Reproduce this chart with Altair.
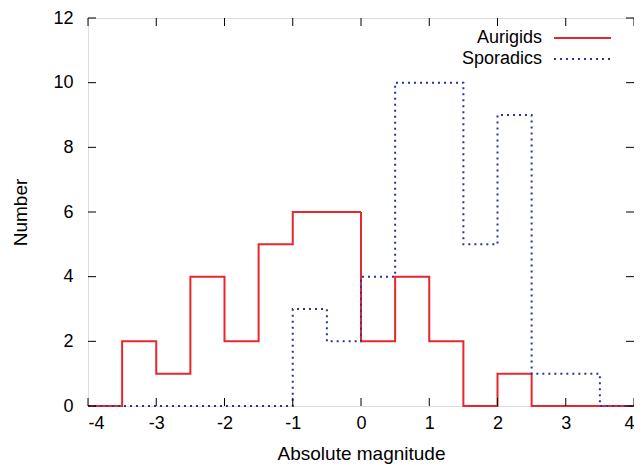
import altair as alt
import pandas as pd

# Bin left edges (width 0.5) plus the final right edge
edges = [-4.0, -3.5, -3.0, -2.5, -2.0, -1.5, -1.0, -0.5, 0.0, 0.5, 1.0, 1.5, 2.0, 2.5, 3.0, 3.5, 4.0]
aurigids = [0, 2, 1, 4, 2, 5, 6, 6, 2, 4, 2, 0, 1, 0, 0, 0]
sporadics = [0, 0, 0, 0, 0, 0, 3, 2, 4, 10, 10, 5, 9, 1, 1, 0]
series_names = ["Aurigids", "Sporadics"]
series_colors = ["#e8262e", "#2b3595"]
series_dash = [[1, 0], [2, 4]]

x_ticks = [-4, -3, -2, -1, 0, 1, 2, 3, 4]
y_ticks = [0, 2, 4, 6, 8, 10, 12]

W, H = 546, 388
FONT = "Liberation Sans"

rows = []
for name, vals in zip(series_names, [aurigids, sporadics]):
    full = vals + [vals[-1]]
    for e, v in zip(edges, full):
        rows.append({"mag": e, "count": v, "series": name})
df = pd.DataFrame(rows)

xscale = alt.Scale(domain=[-4, 4], nice=False, zero=False)
yscale = alt.Scale(domain=[0, 12], nice=False)

layers = []
for name, col, dash in zip(series_names, series_colors, series_dash):
    layers.append(
        alt.Chart(df[df.series == name])
        .mark_line(interpolate="step-after", color=col, strokeWidth=2, strokeDash=dash)
        .encode(
            x=alt.X("mag:Q", scale=xscale, axis=alt.Axis(
                values=x_ticks, title="Absolute magnitude", ticks=False, domain=False, grid=False,
                labelExpr="'' + datum.value",
                labelFontSize=18, labelFont=FONT, labelColor="black", labelPadding=8,
                titleFont=FONT, titleFontSize=19, titleFontWeight="normal", titleColor="black",
                titlePadding=12)),
            y=alt.Y("count:Q", scale=yscale, axis=alt.Axis(
                values=y_ticks, title="Number", ticks=False, domain=False, grid=False,
                labelExpr="'' + datum.value",
                labelFontSize=18, labelFont=FONT, labelColor="black", labelPadding=15,
                titleFont=FONT, titleFontSize=19, titleFontWeight="normal", titleColor="black",
                titlePadding=22)),
        )
    )

xt = pd.DataFrame({"v": x_ticks})
yt = pd.DataFrame({"v": y_ticks})
TL = 8
tick_layers = [
    alt.Chart(xt).mark_rule(color="black", strokeWidth=1).encode(
        x=alt.X("v:Q", scale=xscale), y=alt.value(H), y2=alt.value(H - TL)),
    alt.Chart(xt).mark_rule(color="black", strokeWidth=1).encode(
        x=alt.X("v:Q", scale=xscale), y=alt.value(0), y2=alt.value(TL)),
    alt.Chart(yt).mark_rule(color="black", strokeWidth=1).encode(
        y=alt.Y("v:Q", scale=yscale), x=alt.value(0), x2=alt.value(TL)),
    alt.Chart(yt).mark_rule(color="black", strokeWidth=1).encode(
        y=alt.Y("v:Q", scale=yscale), x=alt.value(W - TL), x2=alt.value(W)),
]

legend_layers = []
for i, (name, col, dash) in enumerate(zip(series_names, series_colors, series_dash)):
    ly = 20 + i * 21
    ldf = pd.DataFrame({"label": [name]})
    legend_layers.append(
        alt.Chart(ldf).mark_text(align="right", baseline="middle", font=FONT, fontSize=18, color="black")
        .encode(text="label:N", x=alt.value(454), y=alt.value(ly))
    )
    legend_layers.append(
        alt.Chart(ldf).mark_rule(color=col, strokeWidth=2, strokeDash=dash)
        .encode(x=alt.value(466), x2=alt.value(523), y=alt.value(ly))
    )

chart = (
    alt.layer(*layers, *tick_layers, *legend_layers)
    .resolve_scale(x="shared", y="shared")
    .properties(width=W, height=H, autosize=alt.AutoSizeParams(type="none"),
                padding={"left": 80, "top": 10, "right": 0, "bottom": 60})
    .configure_view(stroke="black", strokeWidth=1)
    .configure(background="white")
)

chart.save("out.html", embed_options={"renderer": "svg", "actions": False})
